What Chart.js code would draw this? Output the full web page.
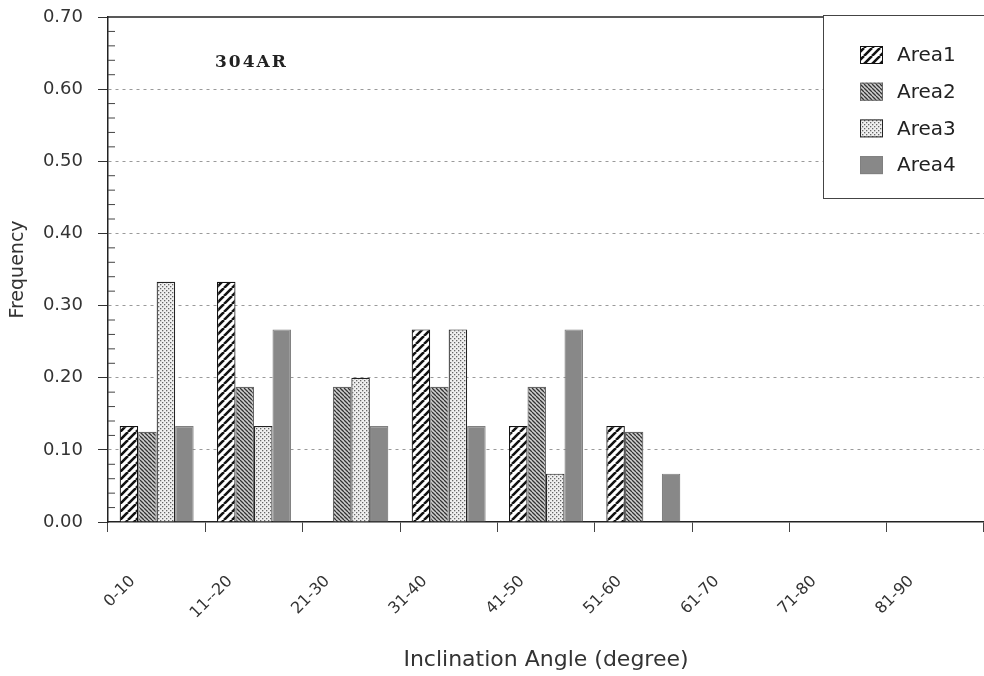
<!DOCTYPE html>
<html>
<head>
  <meta charset="utf-8" />
  <script src="https://cdn.jsdelivr.net/npm/chart.js@4.4.1/dist/chart.umd.min.js"></script>
  <style>
    body { margin: 0; background: #fff; overflow: hidden; }
    #wrap { width: 984px; height: 676px; }
  </style>
</head>
<body>
<div id="wrap"><canvas id="chart" width="984" height="676"></canvas></div>
<script>
/* ---------- Data ---------- */
const angleBins = ['0-10', '11--20', '21-30', '31-40', '41-50', '51-60', '61-70', '71-80', '81-90'];
const area1 = [0.133, 0.333, 0, 0.267, 0.133, 0.133, 0, 0, 0];
const area2 = [0.125, 0.1875, 0.1875, 0.1875, 0.1875, 0.125, 0, 0, 0];
const area3 = [0.333, 0.133, 0.2, 0.267, 0.067, 0, 0, 0, 0];
const area4 = [0.133, 0.267, 0.133, 0.133, 0.267, 0.067, 0, 0, 0];
const seriesNames = ['Area1', 'Area2', 'Area3', 'Area4'];
const sampleName = '304AR';

const FONT = '"DejaVu Sans", "Liberation Sans", Arial, sans-serif';

/* ---------- Fill patterns ---------- */
function hatch(size, bg, fg, lw, back){
  const c = document.createElement('canvas');
  c.width = size; c.height = size;
  const g = c.getContext('2d');
  g.fillStyle = bg; g.fillRect(0, 0, size, size);
  g.strokeStyle = fg; g.lineWidth = lw;
  g.beginPath();
  for (let k = -1; k <= 1; k++) {
    if (back) { g.moveTo(k*size, 0); g.lineTo(k*size + size, size); }
    else { g.moveTo(k*size, size); g.lineTo(k*size + size, 0); }
  }
  g.stroke();
  return g.createPattern(c, 'repeat');
}
function dots(){
  const c = document.createElement('canvas');
  c.width = 4; c.height = 4;
  const g = c.getContext('2d');
  g.fillStyle = '#f0f0f0'; g.fillRect(0, 0, 4, 4);
  g.fillStyle = '#666';
  g.fillRect(0, 0, 1.3, 1.3);
  g.fillRect(2, 2, 1.3, 1.3);
  return g.createPattern(c, 'repeat');
}
const fills = [
  hatch(8, '#ffffff', '#111', 2.6, false),
  hatch(4, '#d0d0d0', '#333', 1.3, true),
  dots(),
  '#888888'
];
const borders = ['#111', '#666', '#222', '#808080'];

/* ---------- Plugins ---------- */
const decor = {
  id: 'decor',
  afterDraw(chart){
    const ctx = chart.ctx, a = chart.chartArea, y = chart.scales.y;
    ctx.save();
    // top frame line
    ctx.strokeStyle = '#222'; ctx.lineWidth = 1.5;
    ctx.beginPath(); ctx.moveTo(a.left, a.top); ctx.lineTo(a.right, a.top); ctx.stroke();
    // minor ticks inside the y axis
    ctx.lineWidth = 1; ctx.strokeStyle = '#444';
    for (let i = 1; i < 35; i++) {
      if (i % 5 === 0) continue;
      const py = y.getPixelForValue(i * 0.02);
      ctx.beginPath(); ctx.moveTo(a.left, py); ctx.lineTo(a.left + 7, py); ctx.stroke();
    }
    // sample name
    ctx.fillStyle = '#222';
    ctx.font = 'bold 17px "DejaVu Serif", "Liberation Serif", serif';
    ctx.letterSpacing = '2px';
    ctx.textBaseline = 'middle'; ctx.textAlign = 'left';
    ctx.fillText(sampleName, a.left + 107, a.top + 46);
    ctx.letterSpacing = '0px';
    // legend box
    const lx = 823, ly = 15, lw = 170, lh = 183;
    ctx.fillStyle = '#fff'; ctx.fillRect(lx, ly, lw, lh);
    ctx.strokeStyle = '#444'; ctx.lineWidth = 1;
    ctx.strokeRect(lx + 0.5, ly + 0.5, lw, lh);
    ctx.font = '20px ' + FONT;
    chart.data.datasets.forEach((ds, i) => {
      const cy = 55 + i * 36.7;
      ctx.fillStyle = ds.backgroundColor;
      ctx.fillRect(860, cy - 9, 23, 18);
      ctx.strokeStyle = ds.borderColor; ctx.lineWidth = 1;
      ctx.strokeRect(860.5, cy - 8.5, 22, 17);
      ctx.fillStyle = '#222';
      ctx.fillText(ds.label, 897, cy + 1);
    });
    ctx.restore();
  }
};

/* ---------- Chart ---------- */
const seriesData = [area1, area2, area3, area4];
new Chart(document.getElementById('chart').getContext('2d'), {
  type: 'bar',
  data: {
    labels: angleBins,
    datasets: seriesNames.map((n, i) => ({
      label: n,
      data: seriesData[i],
      backgroundColor: fills[i],
      borderColor: borders[i],
      borderWidth: 1.2,
      categoryPercentage: 0.76,
      barPercentage: 1.0
    }))
  },
  options: {
    responsive: false,
    animation: false,
    devicePixelRatio: 1,
    layout: { padding: { top: 17, right: 0, left: 0, bottom: 0 } },
    plugins: { legend: { display: false }, tooltip: { enabled: false } },
    scales: {
      x: {
        offset: true,
        grid: { offset: true, drawOnChartArea: false, drawTicks: true, tickLength: 10, color: '#444' },
        border: { display: true, color: '#222', width: 1.5 },
        ticks: {
          minRotation: 45, maxRotation: 45, autoSkip: false,
          padding: 40, labelOffset: -24,
          color: '#333', font: { family: FONT, size: 16 }
        },
        title: {
          display: true, text: 'Inclination Angle (degree)', color: '#333',
          font: { family: FONT, size: 22 },
          padding: { top: 0, bottom: 3 }
        },
        afterFit(s){ s.height = 154; s.paddingRight = 0; s.paddingLeft = 0; }
      },
      y: {
        min: 0, max: 0.7,
        grid: {
          drawTicks: true, tickLength: 10,
          color: c => { const k = Math.round(c.tick.value * 100); return (k % 10 === 0 && k > 0 && k < 70) ? '#9a9a9a' : 'rgba(0,0,0,0)'; },
          tickColor: c => (Math.round(c.tick.value * 100) % 10 === 0 ? '#333' : 'rgba(0,0,0,0)'),
          lineWidth: 1
        },
        // in v4 border.dash styles the grid lines
        border: { display: true, color: '#222', width: 1.5, dash: [3, 4] },
        ticks: {
          stepSize: 0.02, autoSkip: false, padding: 15,
          color: '#333', font: { family: FONT, size: 18 },
          callback: v => (Math.round(v * 100) % 10 === 0 ? v.toFixed(2) : '')
        },
        title: {
          display: true, text: 'Frequency', color: '#333',
          font: { family: FONT, size: 19 },
          padding: { top: 7, bottom: 0 }
        },
        afterFit(s){ s.width = 108; s.paddingTop = 0; s.paddingBottom = 0; }
      }
    }
  },
  plugins: [decor]
});
</script>
</body>
</html>
